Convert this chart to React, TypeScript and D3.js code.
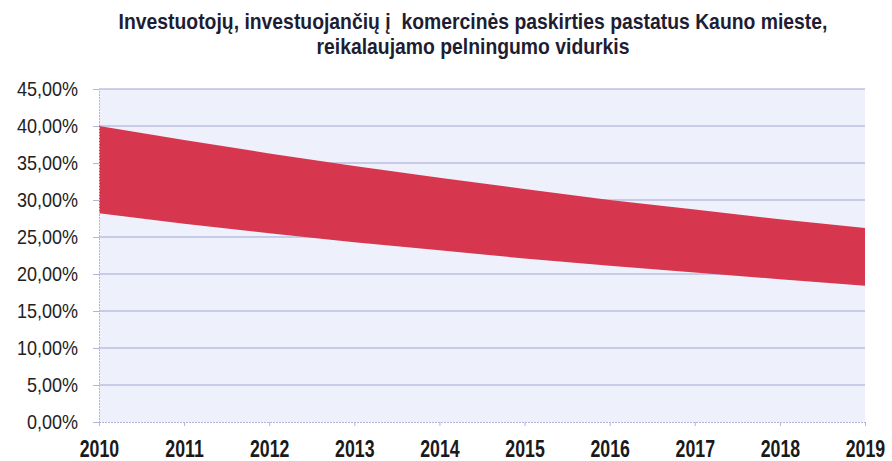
import React, { useEffect, useRef } from "react"
import * as d3 from "d3"

const WIDTH = 892
const HEIGHT = 461
const MARGIN = { top: 89, right: 27, bottom: 39, left: 99 }

const years = [2010, 2011, 2012, 2013, 2014, 2015, 2016, 2017, 2018, 2019]
// apatinė ir viršutinė juostos ribos (%)
const lowerValues = [28.2, 26.8, 25.5, 24.3, 23.2, 22.1, 21.1, 20.2, 19.3, 18.4]
const upperValues = [40.0, 38.1, 36.3, 34.6, 33.0, 31.5, 30.0, 28.7, 27.4, 26.2]
const yTicks = [0, 5, 10, 15, 20, 25, 30, 35, 40, 45]
const titleLines = [
    "Investuotojų, investuojančių į  komercinės paskirties pastatus Kauno mieste,",
    "reikalaujamo pelningumo vidurkis",
]

const SANS = "'Liberation Sans', Arial, sans-serif"
// siauresnis šriftas imituojamas suspaudžiant horizontaliai
const Y_SQUEEZE = 0.9
const X_SQUEEZE = 0.74
const TITLE_SQUEEZE = 0.88

const App: React.FC = () => {
    const svgRef = useRef<SVGSVGElement | null>(null)

    useEffect(() => {
        if (!svgRef.current) return
        const svg = d3.select(svgRef.current)
        svg.selectAll("*").remove()

        const innerWidth = WIDTH - MARGIN.left - MARGIN.right
        const innerHeight = HEIGHT - MARGIN.top - MARGIN.bottom

        const x = d3.scaleLinear().domain([2010, 2019]).range([0, innerWidth])
        const y = d3.scaleLinear().domain([0, 45]).range([innerHeight, 0])

        // pavadinimas
        svg.append("text")
            .attr("transform", `translate(473,0) scale(${TITLE_SQUEEZE},1)`)
            .attr("y", 29)
            .attr("text-anchor", "middle")
            .style("font-family", SANS)
            .style("font-weight", "bold")
            .style("font-size", "22px")
            .style("white-space", "pre")
            .style("fill", "#1d1d33")
            .selectAll("tspan")
            .data(titleLines)
            .enter()
            .append("tspan")
            .attr("x", 0)
            .attr("dy", (_, i) => (i === 0 ? 0 : 25))
            .text(d => d)

        const chart = svg
            .append("g")
            .attr("transform", `translate(${MARGIN.left},${MARGIN.top})`)

        chart.append("rect")
            .attr("width", innerWidth)
            .attr("height", innerHeight)
            .attr("fill", "#eef0fb")

        // tinklelis
        chart.append("g")
            .selectAll("line")
            .data(yTicks.filter(d => d > 0))
            .enter()
            .append("line")
            .attr("x1", 0)
            .attr("x2", innerWidth)
            .attr("y1", d => y(d))
            .attr("y2", d => y(d))
            .attr("stroke", "#a2a6d6")
            .attr("stroke-width", 1.1)

        const data = years.map((yr, i) => ({ yr, lo: lowerValues[i], hi: upperValues[i] }))
        const area = d3
            .area<{ yr: number; lo: number; hi: number }>()
            .x(d => x(d.yr))
            .y0(d => y(d.lo))
            .y1(d => y(d.hi))

        chart.append("path")
            .datum(data)
            .attr("d", area)
            .attr("fill", "#d6374f")

        // ašys
        const yAxis = d3
            .axisLeft(y)
            .tickValues(yTicks)
            .tickSize(6)
            .tickPadding(15)
            .tickFormat(d => d3.format(".2f")(d as number).replace(".", ",") + "%")
        const gy = chart.append("g").call(yAxis)
        gy.select(".domain").attr("stroke", "#b7b3dc").attr("stroke-dasharray", "2,1")
        gy.selectAll(".tick line").attr("stroke", "#b7b3dc")
        gy.selectAll("text")
            .attr("x", -21 / Y_SQUEEZE)
            .attr("transform", `scale(${Y_SQUEEZE},1)`)
            .style("font-family", SANS)
            .style("font-size", "20px")
            .style("fill", "#222")

        const xAxis = d3
            .axisBottom(x)
            .tickValues(years)
            .tickSize(4)
            .tickPadding(14)
            .tickFormat(d => String(d))
        const gx = chart.append("g").attr("transform", `translate(0,${innerHeight})`).call(xAxis)
        gx.select(".domain").attr("stroke", "#b7b3dc").attr("stroke-dasharray", "2,1")
        gx.selectAll(".tick line").attr("stroke", "#b7b3dc")
        gx.selectAll("text")
            .attr("transform", `scale(${X_SQUEEZE},1)`)
            .style("font-family", SANS)
            .style("font-weight", "bold")
            .style("font-size", "24px")
            .style("fill", "#1a1a1a")
    }, [])

    return (
        <svg
            ref={svgRef}
            width={WIDTH}
            height={HEIGHT}
            style={{ position: "absolute", left: 0, top: 0, background: "#fff" }}
        />
    )
}

export default App
